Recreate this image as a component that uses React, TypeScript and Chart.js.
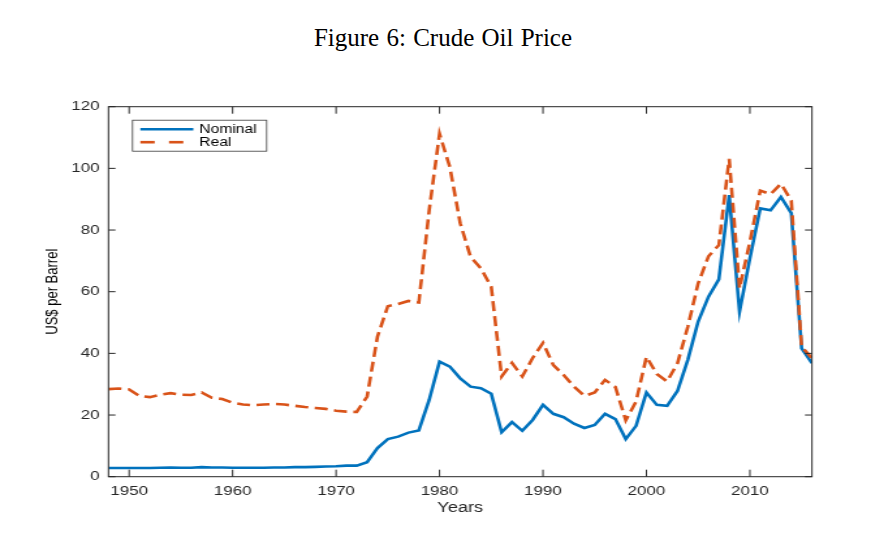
import { useEffect, useRef } from 'react';
import Chart from 'chart.js/auto';

// yearly series
const years = [
  1948, 1949, 1950, 1951, 1952, 1953, 1954, 1955, 1956, 1957, 1958, 1959,
  1960, 1961, 1962, 1963, 1964, 1965, 1966, 1967, 1968, 1969, 1970, 1971,
  1972, 1973, 1974, 1975, 1976, 1977, 1978, 1979, 1980, 1981, 1982, 1983,
  1984, 1985, 1986, 1987, 1988, 1989, 1990, 1991, 1992, 1993, 1994, 1995,
  1996, 1997, 1998, 1999, 2000, 2001, 2002, 2003, 2004, 2005, 2006, 2007,
  2008, 2009, 2010, 2011, 2012, 2013, 2014, 2015, 2016,
];

const nominal = [
  2.8, 2.8, 2.8, 2.8, 2.8, 2.9, 3.0, 2.9, 2.9, 3.1, 3.0, 3.0,
  2.9, 2.9, 2.9, 2.9, 3.0, 3.0, 3.1, 3.1, 3.2, 3.3, 3.4, 3.6,
  3.6, 4.7, 9.3, 12.2, 13.0, 14.3, 15.0, 24.9, 37.3, 35.7, 31.9, 29.2,
  28.7, 26.9, 14.4, 17.7, 14.9, 18.4, 23.3, 20.4, 19.3, 17.2, 15.8, 16.8,
  20.4, 18.7, 12.2, 16.5, 27.3, 23.3, 23.0, 27.8, 37.9, 50.3, 58.4, 64.0,
  91.3, 53.5, 70.8, 87.0, 86.4, 90.7, 85.5, 41.6, 36.8,
];

const real = [
  28.4, 28.6, 28.3, 26.2, 25.8, 26.6, 27.1, 26.6, 26.5, 27.3, 25.6, 25.2,
  24.0, 23.4, 23.2, 23.4, 23.6, 23.4, 23.0, 22.6, 22.3, 22.0, 21.4, 21.1,
  21.0, 26.0, 45.4, 55.3, 56.0, 57.0, 56.5, 86.4, 111.2, 100.4, 82.2, 71.3,
  67.6, 61.6, 32.5, 36.9, 32.5, 38.5, 43.4, 36.2, 33.0, 29.2, 26.2, 27.3,
  31.4, 29.1, 18.3, 24.4, 38.9, 33.3, 30.9, 36.8, 48.6, 62.7, 71.5, 75.1,
  103.1, 61.1, 76.2, 92.8, 91.6, 95.0, 89.6, 42.2, 38.4,
];

const xTicks = [1950, 1960, 1970, 1980, 1990, 2000, 2010];
const yTicks = [0, 20, 40, 60, 80, 100, 120];

// the figure is stretched sideways, so the canvas is drawn narrow and scaled in x
const STRETCH = 1.3;
const W = 882 / STRETCH;
const H = 538;

const sans = "'Liberation Sans', Arial, sans-serif";
const axisColor = '#262626';

const frame = {
  id: 'frame',
  afterDraw(chart: any) {
    const { ctx, chartArea, scales } = chart;
    const { left, right, top, bottom } = chartArea;
    ctx.save();
    ctx.strokeStyle = axisColor;
    ctx.lineWidth = 1;
    ctx.strokeRect(left, top, right - left, bottom - top);
    ctx.beginPath();
    xTicks.forEach((v) => {
      const px = scales.x.getPixelForValue(v);
      ctx.moveTo(px, bottom);
      ctx.lineTo(px, bottom - 7);
      ctx.moveTo(px, top);
      ctx.lineTo(px, top + 7);
    });
    yTicks.forEach((v) => {
      const py = scales.y.getPixelForValue(v);
      ctx.moveTo(left, py);
      ctx.lineTo(left + 7 / STRETCH, py);
      ctx.moveTo(right, py);
      ctx.lineTo(right - 7 / STRETCH, py);
    });
    ctx.stroke();
    ctx.restore();
  },
};

const legendBox = {
  id: 'legendBox',
  afterDatasetsDraw(chart: any) {
    const { ctx, chartArea } = chart;
    const x = chartArea.left + 18.5;
    const y = chartArea.top + 13.5;
    ctx.save();
    ctx.fillStyle = '#fff';
    ctx.fillRect(x, y, 103, 31);
    ctx.strokeStyle = '#3a3a3a';
    ctx.lineWidth = 0.8;
    ctx.strokeRect(x, y, 103, 31);
    chart.data.datasets.forEach((ds: any, i: number) => {
      const ly = y + 9 + i * 13;
      ctx.strokeStyle = ds.borderColor;
      ctx.lineWidth = ds.borderWidth;
      ctx.setLineDash(ds.borderDash ? [11, 11] : []);
      ctx.beginPath();
      ctx.moveTo(x + 6, ly);
      ctx.lineTo(x + 46.7, ly);
      ctx.stroke();
      ctx.fillStyle = '#000';
      ctx.font = `12px ${sans}`;
      ctx.textBaseline = 'middle';
      ctx.fillText(ds.label, x + 51.3, ly + 0.5);
    });
    ctx.restore();
  },
};

const App = () => {
  const chartRef = useRef<HTMLCanvasElement | null>(null);
  const chartInstance = useRef<Chart | null>(null);

  useEffect(() => {
    if (!chartRef.current) return;
    if (chartInstance.current) chartInstance.current.destroy();

    chartInstance.current = new Chart(chartRef.current, {
      type: 'line',
      data: {
        datasets: [
          {
            label: 'Nominal',
            data: years.map((yr, i) => ({ x: yr, y: nominal[i] })),
            borderColor: '#0072BD',
            borderWidth: 2.6,
            pointRadius: 0,
            tension: 0,
            order: 1,
          },
          {
            label: 'Real',
            data: years.map((yr, i) => ({ x: yr, y: real[i] })),
            borderColor: '#D95319',
            borderWidth: 2.6,
            borderDash: [10, 5],
            pointRadius: 0,
            tension: 0,
            order: 0,
          },
        ],
      },
      options: {
        animation: false,
        responsive: true,
        maintainAspectRatio: false,
        layout: { padding: { left: 0, right: W - 810.7 / STRETCH, top: 106.7, bottom: 0 } },
        plugins: {
          legend: { display: false },
          title: { display: false },
          tooltip: { enabled: false },
        },
        scales: {
          x: {
            type: 'linear',
            min: 1948,
            max: 2016,
            grid: { display: false, drawTicks: false },
            border: { display: false },
            afterBuildTicks: (s: any) => {
              s.ticks = xTicks.map((v) => ({ value: v }));
            },
            afterFit: (s: any) => {
              s.height = H - 476.7;
              s.paddingLeft = 0;
              s.paddingRight = 0;
            },
            ticks: {
              autoSkip: false,
              maxRotation: 0,
              padding: 6.5,
              color: axisColor,
              font: { family: sans, size: 13 },
              callback: (v: any) => String(v),
            },
            title: {
              display: true,
              text: 'Years',
              color: axisColor,
              font: { family: sans, size: 14 },
              padding: { top: 0, bottom: 21 },
            },
          },
          y: {
            min: 0,
            max: 120,
            grid: { display: false, drawTicks: false },
            border: { display: false },
            afterBuildTicks: (s: any) => {
              s.ticks = yTicks.map((v) => ({ value: v }));
            },
            afterFit: (s: any) => {
              s.width = 108.3 / STRETCH;
              s.paddingTop = 0;
              s.paddingBottom = 0;
            },
            ticks: {
              padding: 6.8,
              color: axisColor,
              font: { family: sans, size: 13 },
            },
            title: {
              display: true,
              text: 'US$ per Barrel',
              color: '#000',
              font: { family: sans, size: 13 },
              padding: { top: 32.6, bottom: 0 },
            },
          },
        },
      },
      plugins: [legendBox, frame],
    });
    // Cleanup
    return () => {
      chartInstance.current?.destroy();
    };
  }, []);

  return (
    <div style={{ position: 'absolute', left: 0, top: 0, width: 882, height: H, background: '#fff' }}>
      <div
        style={{
          position: 'absolute',
          left: 2,
          top: 24,
          width: 882,
          textAlign: 'center',
          fontFamily: "'Liberation Serif', 'Times New Roman', serif",
          fontSize: 25,
          color: '#000',
          wordSpacing: 1,
        }}
      >
        Figure 6: Crude Oil Price
      </div>
      <div
        style={{
          position: 'absolute',
          left: 0,
          top: 0,
          width: W,
          height: H,
          transform: `scaleX(${STRETCH})`,
          transformOrigin: '0 0',
        }}
      >
        <canvas ref={chartRef} />
      </div>
    </div>
  );
};

export default App;
